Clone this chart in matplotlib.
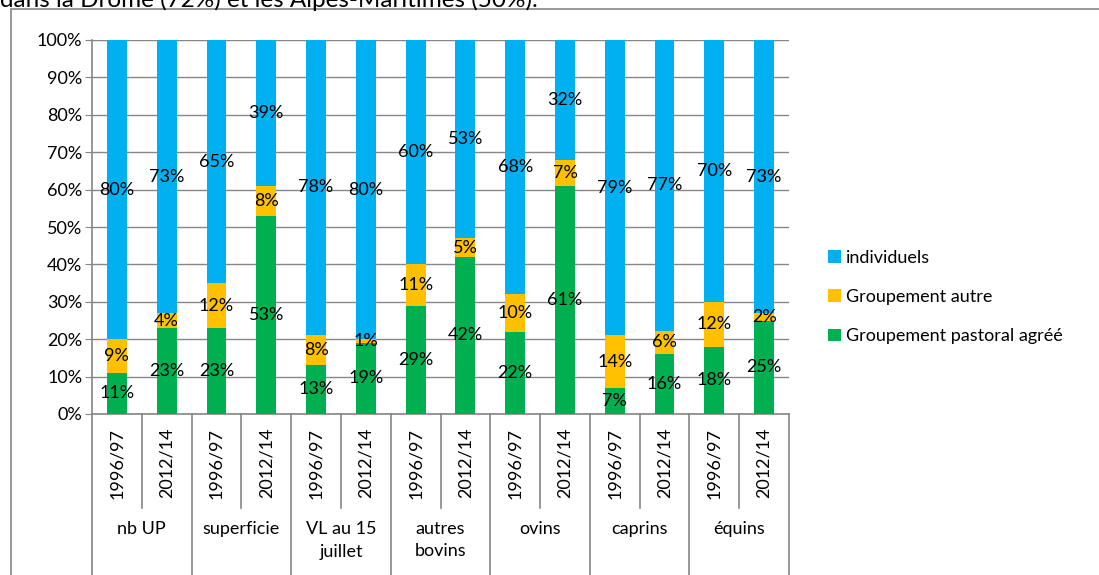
import numpy as np
import matplotlib.pyplot as plt
from matplotlib.patches import Rectangle
from matplotlib.transforms import blended_transform_factory

plt.rcParams['font.family'] = ['Lato', 'DejaVu Sans']

groups = ['nb UP', 'superficie', 'VL au 15\njuillet', 'autres\nbovins',
          'ovins', 'caprins', 'équins']
periods = ['1996/97', '2012/14']
series = ['Groupement pastoral agréé', 'Groupement autre', 'individuels']
colors = ['#00B050', '#FFC000', '#00B0F0']

pastoral = [11, 23, 23, 53, 13, 19, 29, 42, 22, 61, 7, 16, 18, 25]
autre = [9, 4, 12, 8, 8, 1, 11, 5, 10, 7, 14, 6, 12, 2]
individuels = [80, 73, 65, 39, 78, 80, 60, 53, 68, 32, 79, 77, 70, 73]

W, H = 1099, 575
fig = plt.figure(figsize=(W / 100, H / 100), dpi=100)

# partially cropped sentence above the chart
fig.text(0 / W, 1 - 7 / H, 'dans la Drôme (72%) et les Alpes-Maritimes (50%).',
         fontsize=17.5, va='baseline', ha='left')

# chart frame (only top and left visible)
fig.patches.append(Rectangle((11 / W, -0.1), 1.2, 1 - 9 / H + 0.1,
                             transform=fig.transFigure, fill=False,
                             edgecolor='#868686', linewidth=1.2))

ax = fig.add_axes([92 / W, (H - 414) / H, (789 - 92) / W, (414 - 40) / H])

data = np.array([pastoral, autre, individuels], dtype=float)
share = data / data.sum(axis=0) * 100
n = data.shape[1]
x = np.arange(n)

bottom = np.zeros(n)
for vals, pct, name, col in zip(data, share, series, colors):
    ax.bar(x, pct, 0.4, bottom=bottom, color=col, label=name, zorder=3)
    for xi, b, p, v in zip(x, bottom, pct, vals):
        ax.text(xi, b + p / 2, '%d%%' % v, ha='center', va='center',
                fontsize=13, zorder=4)
    bottom += pct

ax.set_xlim(-0.5, n - 0.5)
ax.set_ylim(0, 100)
ax.set_yticks(np.arange(0, 101, 10))
ax.set_yticklabels(['%d%%' % v for v in range(0, 101, 10)], fontsize=13)
ax.grid(axis='y', color='#868686', linewidth=1, zorder=0)
for s in ['top', 'right']:
    ax.spines[s].set_visible(False)
for s in ['left', 'bottom']:
    ax.spines[s].set_color('#868686')
    ax.spines[s].set_linewidth(1.2)
ax.tick_params(axis='y', length=5, color='#868686', pad=2)
ax.set_xticks([])

# category axis: years, separators, group names
trans = blended_transform_factory(ax.transData, fig.transFigure)
y_axis = (H - 414) / H
for i in range(n):
    ax.text(x[i], (H - 428) / H, periods[i % 2], rotation=90, ha='center',
            va='top', fontsize=13, transform=trans)
for i in range(n + 1):
    y_end = 0 if i % 2 == 0 else (H - 508) / H
    ax.plot([i - 0.5, i - 0.5], [y_axis, y_end], color='#868686',
            linewidth=1.2, transform=trans, clip_on=False)
for g, name in enumerate(groups):
    ax.text(2 * g + 0.5, (H - 521) / H, name, ha='center', va='top',
            fontsize=13, linespacing=1.5, transform=trans)

# legend, top entry first
handles, labels = ax.get_legend_handles_labels()
fig.legend(handles[::-1], labels[::-1], loc='center left',
           bbox_to_anchor=(812 / W, 1 - 297 / H), frameon=False,
           fontsize=13, handlelength=0.7, handleheight=0.7,
           handletextpad=0.3, labelspacing=1.3)

fig.savefig('out.png', dpi=100)
